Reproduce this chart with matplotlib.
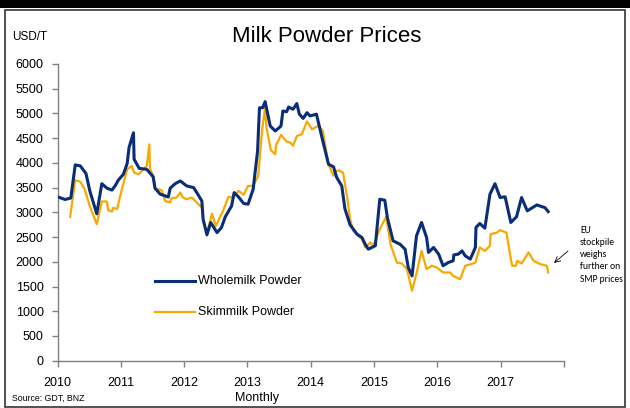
import matplotlib
matplotlib.use("Agg")
import matplotlib.pyplot as plt
from matplotlib.patches import Rectangle

# ---- data (decimal years, USD/T) ----
wmp_t = [2010.01, 2010.12, 2010.21, 2010.28, 2010.36, 2010.45, 2010.51, 2010.62, 2010.70, 2010.78,
         2010.86, 2010.91, 2010.96, 2011.04, 2011.10, 2011.13, 2011.20, 2011.21, 2011.29, 2011.41,
         2011.51, 2011.54, 2011.62, 2011.75, 2011.78, 2011.86, 2011.94, 2012.04, 2012.15, 2012.20,
         2012.28, 2012.30, 2012.36, 2012.42, 2012.52, 2012.59, 2012.65, 2012.75, 2012.79, 2012.86,
         2012.94, 2013.01, 2013.09, 2013.16, 2013.19, 2013.24, 2013.28, 2013.36, 2013.44, 2013.53,
         2013.56, 2013.62, 2013.65, 2013.72, 2013.78, 2013.82, 2013.88, 2013.94, 2013.99, 2014.09,
         2014.19, 2014.28, 2014.36, 2014.41, 2014.49, 2014.54, 2014.62, 2014.73, 2014.81, 2014.86,
         2014.91, 2015.02, 2015.09, 2015.17, 2015.21, 2015.30, 2015.41, 2015.49, 2015.54, 2015.60,
         2015.67, 2015.75, 2015.83, 2015.86, 2015.94, 2016.02, 2016.09, 2016.17, 2016.25, 2016.26,
         2016.33, 2016.39, 2016.44, 2016.52, 2016.60, 2016.61, 2016.67, 2016.75, 2016.83, 2016.91,
         2016.99, 2017.07, 2017.16, 2017.25, 2017.33, 2017.42, 2017.57, 2017.70, 2017.75]
wmp_v = [3310, 3260, 3290, 3960, 3940, 3785, 3435, 2970, 3580, 3490,
         3450, 3535, 3650, 3770, 3985, 4310, 4610, 4075, 3890, 3870,
         3720, 3490, 3370, 3310, 3490, 3580, 3635, 3535, 3500, 3400,
         3230, 2860, 2545, 2795, 2590, 2695, 2910, 3130, 3400, 3310,
         3180, 3165, 3465, 4240, 5115, 5115, 5240, 4745, 4645, 4745,
         5050, 5035, 5130, 5085, 5200, 4985, 4900, 5015, 4950, 4985,
         4445, 3975, 3920, 3705, 3535, 3070, 2750, 2560, 2490, 2355,
         2255, 2325, 3265, 3245, 2895, 2425, 2355, 2255, 1885, 1715,
         2525, 2795, 2490, 2190, 2290, 2155, 1920, 1985, 2020, 2140,
         2155, 2220, 2120, 2055, 2290, 2695, 2775, 2680, 3365, 3580,
         3300, 3315, 2795, 2910, 3300, 3030, 3150, 3095, 3015]

smp_t = [2010.20, 2010.28, 2010.36, 2010.43, 2010.51, 2010.62, 2010.70, 2010.78, 2010.80, 2010.86,
         2010.88, 2010.94, 2011.01, 2011.10, 2011.17, 2011.21, 2011.28, 2011.36, 2011.41, 2011.45,
         2011.46, 2011.52, 2011.54, 2011.61, 2011.65, 2011.70, 2011.78, 2011.80, 2011.88, 2011.94,
         2011.98, 2012.04, 2012.12, 2012.20, 2012.28, 2012.30, 2012.36, 2012.44, 2012.50, 2012.61,
         2012.70, 2012.77, 2012.86, 2012.94, 2013.01, 2013.09, 2013.17, 2013.23, 2013.28, 2013.30,
         2013.37, 2013.44, 2013.45, 2013.53, 2013.62, 2013.68, 2013.72, 2013.78, 2013.86, 2013.94,
         2014.02, 2014.12, 2014.19, 2014.28, 2014.36, 2014.38, 2014.44, 2014.51, 2014.58, 2014.62,
         2014.67, 2014.75, 2014.81, 2014.86, 2014.94, 2014.99, 2015.09, 2015.19, 2015.26, 2015.36,
         2015.44, 2015.52, 2015.60, 2015.67, 2015.75, 2015.83, 2015.91, 2015.99, 2016.09, 2016.20,
         2016.25, 2016.36, 2016.44, 2016.54, 2016.60, 2016.67, 2016.75, 2016.83, 2016.84, 2016.94,
         2016.99, 2017.09, 2017.18, 2017.24, 2017.26, 2017.33, 2017.44, 2017.52, 2017.62, 2017.73,
         2017.75]
smp_v = [2910, 3650, 3620, 3465, 3130, 2760, 3220, 3220, 3045, 3015,
         3095, 3065, 3435, 3870, 3940, 3805, 3770, 3870, 3940, 4375,
         3890, 3705, 3465, 3465, 3435, 3230, 3200, 3285, 3300, 3400,
         3300, 3265, 3300, 3200, 3095, 2860, 2570, 2975, 2725, 3015,
         3315, 3300, 3435, 3355, 3535, 3535, 3735, 4645, 5130, 4715,
         4255, 4175, 4345, 4565, 4430, 4410, 4345, 4545, 4580, 4840,
         4680, 4750, 4650, 3970, 3740, 3825, 3850, 3805, 3270, 2870,
         2630, 2525, 2460, 2290, 2390, 2325, 2660, 2910, 2355, 1985,
         1965, 1850, 1415, 1765, 2220, 1850, 1920, 1885, 1785, 1785,
         1715, 1650, 1920, 1955, 1985, 2290, 2220, 2325, 2560, 2590,
         2640, 2590, 1920, 1920, 2020, 1965, 2190, 2020, 1955, 1920,
         1785]

years = [2010, 2011, 2012, 2013, 2014, 2015, 2016, 2017, 2018]
year_labels = ["2010", "2011", "2012", "2013", "2014", "2015", "2016", "2017", ""]
yticks = list(range(0, 6001, 500))

BLUE = "#0A2D78"
GOLD = "#F7A900"
FONT = ["Liberation Sans", "DejaVu Sans"]
plt.rcParams["font.family"] = FONT

W, H = 630, 408
fig = plt.figure(figsize=(W / 100, H / 100), dpi=100)

def fx(x):
    return x / W

def fy(y):
    return 1 - y / H

# frame
fig.patches.append(Rectangle((0, fy(8)), 1, fy(0) - fy(8), transform=fig.transFigure,
                             facecolor="black", edgecolor="none", zorder=0))
fig.patches.append(Rectangle((fx(5), fy(407)), fx(625) - fx(5), fy(10) - fy(407),
                             transform=fig.transFigure, facecolor="none",
                             edgecolor="#333333", linewidth=1.2, zorder=0))

ax = fig.add_axes([fx(57.5), fy(360.7), fx(564) - fx(57.5), fy(64) - fy(360.7)])
ax.plot(wmp_t, wmp_v, color=BLUE, lw=2.2, solid_joinstyle="round", zorder=3)
ax.plot(smp_t, smp_v, color=GOLD, lw=1.6, solid_joinstyle="round", zorder=2)

ax.set_xlim(2010, 2018)
ax.set_ylim(0, 6000)
ax.set_xticks(years)
ax.set_xticklabels(year_labels)
ax.set_yticks(yticks)
for s in ["top", "right"]:
    ax.spines[s].set_visible(False)
for s in ["left", "bottom"]:
    ax.spines[s].set_color("#808080")
    ax.spines[s].set_linewidth(1.0)
ax.tick_params(axis="y", direction="out", length=4, width=1, color="#808080",
               labelsize=9, pad=6)
ax.tick_params(axis="x", direction="out", length=4, width=1, color="#808080",
               labelsize=9, pad=8)

# texts
fig.text(fx(12), fy(37), "USD/T", fontsize=8.5, va="center", ha="left")
fig.text(fx(327), fy(37), "Milk Powder Prices", fontsize=16, va="center", ha="center")
fig.text(fx(12), fy(398), "Source: GDT, BNZ", fontsize=6.3, va="center", ha="left")
fig.text(fx(257), fy(398), "Monthly", fontsize=9, va="center", ha="center")

# legend
fig.lines.append(plt.Line2D([fx(155), fx(195)], [fy(281), fy(281)], transform=fig.transFigure,
                            color=BLUE, lw=2.2))
fig.text(fx(198), fy(281), "Wholemilk Powder", fontsize=9, va="center", ha="left")
fig.lines.append(plt.Line2D([fx(155), fx(195)], [fy(312), fy(312)], transform=fig.transFigure,
                            color=GOLD, lw=1.6))
fig.text(fx(198), fy(312), "Skimmilk Powder", fontsize=9, va="center", ha="left")

# annotation
fig.text(fx(580), fy(226), "EU\nstockpile\nweighs\nfurther on\nSMP prices",
         fontsize=6.9, va="top", ha="left", linespacing=1.45,
         family=["Carlito", "Lato", "DejaVu Sans"])
ax.annotate("", xy=(fx(554), fy(263)), xycoords="figure fraction",
            xytext=(fx(568), fy(251)), textcoords="figure fraction",
            arrowprops=dict(arrowstyle="->", color="black", lw=0.6,
                            shrinkA=0, shrinkB=0),
            annotation_clip=False)

fig.savefig("out.png", dpi=100)
